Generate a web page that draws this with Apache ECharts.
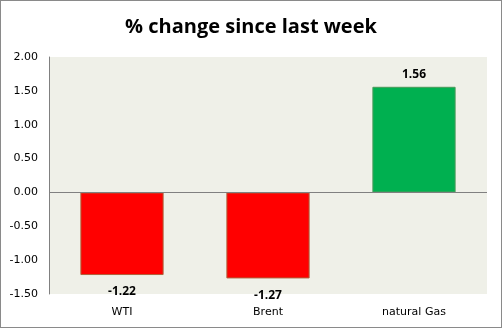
<!DOCTYPE html>
<html><head><meta charset="utf-8">
<script src="https://cdn.jsdelivr.net/npm/echarts@6/dist/echarts.min.js"></script>
<style>html,body{margin:0;padding:0;background:#fff}#c{width:502px;height:328px;box-sizing:border-box;border:1px solid #8a8a8a}</style>
</head><body><div id="c"></div>
<script>
const categories = ['WTI', 'Brent', 'natural Gas'];
const values = [-1.22, -1.27, 1.56];
const yTicks = {min: -1.5, max: 2.0, interval: 0.5};
const titleText = '% change since last week';

const chart = echarts.init(document.getElementById('c'), null, {renderer: 'canvas'});
chart.setOption({
  animation: false,
  title: {text: titleText, left: 'center', top: 11,
    textStyle: {fontFamily: 'Open Sans', fontWeight: 'bold', fontSize: 20, color: '#000'}},
  grid: {left: 48, right: 14, top: 56, bottom: 33, show: true, backgroundColor: '#EFF0E8', borderWidth: 0},
  xAxis: {type: 'category', data: categories, position: 'bottom',
    axisLine: {show: false}, axisTick: {show: false},
    axisLabel: {fontFamily: 'DejaVu Sans', fontSize: 11, color: '#000', margin: 13}},
  yAxis: {type: 'value', min: yTicks.min, max: yTicks.max, interval: yTicks.interval,
    axisLine: {show: true, lineStyle: {color: '#808080'}}, axisTick: {show: false}, splitLine: {show: false},
    axisLabel: {fontFamily: 'DejaVu Sans', fontSize: 11, color: '#000', margin: 11,
      formatter: v => v.toFixed(2)}},
  series: [{type: 'bar', barWidth: '57%',
    data: values.map(v => ({value: v,
      itemStyle: v < 0 ? {color: '#FF0000', borderColor: '#B0603A', borderWidth: 1}
                       : {color: '#00B050', borderColor: '#4A9A5A', borderWidth: 1},
      label: {position: v < 0 ? 'bottom' : 'top', distance: v < 0 ? 11 : 6}})),
    label: {show: true, fontFamily: 'Open Sans', fontWeight: 'bold', fontSize: 12, color: '#000',
      formatter: p => p.value.toFixed(2)},
    markLine: {silent: true, symbol: 'none', label: {show: false},
      lineStyle: {color: '#808080', type: 'solid', width: 1}, data: [{yAxis: 0}]}
  }]
});
</script></body></html>
